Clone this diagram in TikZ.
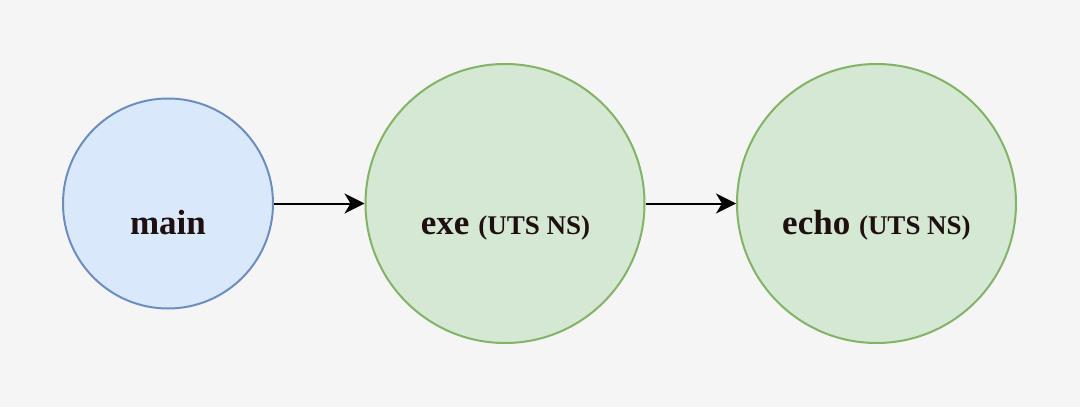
\documentclass[tikz,border=0pt]{standalone}
\usepackage{fontspec}
\setmainfont{Liberation Serif}
\usetikzlibrary{arrows.meta}
\definecolor{bg}{HTML}{F5F5F5}
\definecolor{bluefill}{HTML}{DAE8FC}
\definecolor{bluedraw}{HTML}{6C8EBF}
\definecolor{greenfill}{HTML}{D5E8D4}
\definecolor{greendraw}{HTML}{82B366}
\definecolor{txt}{HTML}{1F0F0F}
\begin{document}
\begin{tikzpicture}[x=1pt,y=-1pt,
  bluecirc/.style={circle,draw=bluedraw,fill=bluefill,line width=2pt,inner sep=0pt},
  greencirc/.style={circle,draw=greendraw,fill=greenfill,line width=2pt,inner sep=0pt},
  lbl/.style={anchor=base,text=txt,font=\bfseries\fontsize{35}{40}\selectfont,inner sep=0pt},
  small/.style={font=\bfseries\fontsize{27}{30}\selectfont},
  conn/.style={line width=2pt,-{Stealth[length=20pt,width=20pt,inset=6pt]}}]
\fill[bg] (0,0) rectangle (1080,407);
\useasboundingbox (0,0) rectangle (1080,407);
\node[bluecirc,minimum size=210pt] (main) at (168,203.5) {};
\node[greencirc,minimum size=279pt] (exe) at (505,203.5) {};
\node[greencirc,minimum size=279pt] (echo) at (876.5,203.5) {};
\node[lbl] (mainlbl) at (168,234) {main};
\node[lbl] (exelbl) at (505.5,234) {exe {\small\fontsize{27}{30}\selectfont(UTS NS)}};
\node[lbl] (echolbl) at (876.5,234) {echo {\fontsize{27}{30}\selectfont(UTS NS)}};
\draw[conn] (main.east) -- (exe.west);
\draw[conn] (exe.east) -- (echo.west);
\end{tikzpicture}
\end{document}
